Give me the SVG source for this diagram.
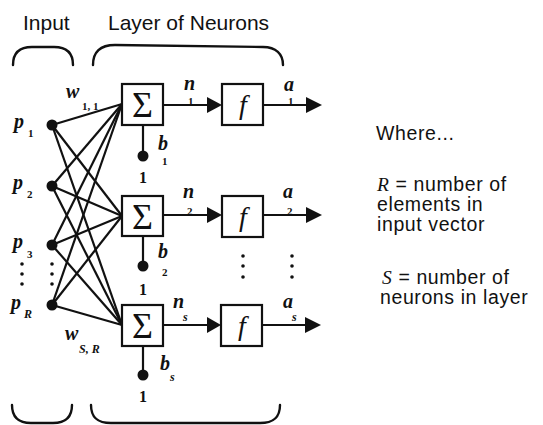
<svg xmlns="http://www.w3.org/2000/svg" width="543" height="425" viewBox="0 0 543 425">
<style>
.ln{stroke:#111;stroke-width:2.2;fill:none}
.box{stroke:#111;stroke-width:2.2;fill:#fff}
.dot{fill:#111}
.br{stroke:#111;stroke-width:2.4;fill:none;stroke-linecap:round}
.hd{font-family:"Liberation Sans",Arial,sans-serif;font-size:21px;fill:#111}
.tx{font-family:"Liberation Sans",Arial,sans-serif;font-size:19.5px;letter-spacing:0.6px;fill:#111}
.v{font-family:"Liberation Serif","Times New Roman",serif;font-style:italic;font-weight:bold;font-size:20px;fill:#111}
.sb{font-family:"Liberation Serif","Times New Roman",serif;font-weight:bold;font-size:11px;fill:#111}
.si{font-family:"Liberation Serif","Times New Roman",serif;font-style:italic;font-weight:bold;font-size:12px;fill:#111}
.one{font-family:"Liberation Serif","Times New Roman",serif;font-weight:bold;font-size:16px;fill:#111;text-anchor:middle}
.sig{font-family:"Liberation Serif","Times New Roman",serif;font-size:36px;fill:#111;text-anchor:middle}
.fn{font-family:"Liberation Serif","Times New Roman",serif;font-style:italic;font-size:28px;fill:#111;text-anchor:middle}
.ri{font-family:"Liberation Serif","Times New Roman",serif;font-style:italic}
</style>
<rect width="543" height="425" fill="#fff"/>
<g id="brackets">
<text class="hd" x="23" y="30">Input</text>
<text class="hd" x="108" y="30">Layer of Neurons</text>
<path class="br" d="M13,65 C13,52 20,47 32,47 L54,47 C66,47 73,52 73,65"/>
<path class="br" d="M93,65 C93,52 100,45 115,45 L263,47 C276,47 283,54 283,65"/>
<path class="br" d="M12,405 C12,418 19,423 31,423 L53,423 C65,423 72,418 72,405"/>
<path class="br" d="M91,405 C91,418 98,423 111,423 L260,423 C273,423 280,418 280,405"/>
</g>
<g id="connectors">
<line class="ln" x1="52" y1="125" x2="122" y2="104"/>
<line class="ln" x1="52" y1="125" x2="122" y2="216"/>
<line class="ln" x1="52" y1="125" x2="122" y2="325"/>
<line class="ln" x1="52" y1="186" x2="122" y2="104"/>
<line class="ln" x1="52" y1="186" x2="122" y2="216"/>
<line class="ln" x1="52" y1="186" x2="122" y2="325"/>
<line class="ln" x1="52" y1="245" x2="122" y2="104"/>
<line class="ln" x1="52" y1="245" x2="122" y2="216"/>
<line class="ln" x1="52" y1="245" x2="122" y2="325"/>
<line class="ln" x1="52" y1="305" x2="122" y2="104"/>
<line class="ln" x1="52" y1="305" x2="122" y2="216"/>
<line class="ln" x1="52" y1="305" x2="122" y2="325"/>
<line class="ln" x1="163" y1="105" x2="208" y2="105"/>
<polygon class="dot" points="207,97 222,105 207,113"/>
<line class="ln" x1="263" y1="105" x2="308" y2="105"/>
<polygon class="dot" points="306,97 322,105 306,113"/>
<line class="ln" x1="163" y1="215" x2="208" y2="215"/>
<polygon class="dot" points="207,207 222,215 207,223"/>
<line class="ln" x1="263" y1="215" x2="308" y2="215"/>
<polygon class="dot" points="306,207 322,215 306,223"/>
<line class="ln" x1="163" y1="325" x2="208" y2="325"/>
<polygon class="dot" points="207,317 221,325 207,333"/>
<line class="ln" x1="262" y1="325" x2="306" y2="325"/>
<polygon class="dot" points="305,317 321,325 305,333"/>
<line class="ln" x1="143" y1="125" x2="143" y2="156"/>
<line class="ln" x1="143" y1="236" x2="143" y2="266"/>
<line class="ln" x1="143" y1="346" x2="143" y2="375"/>
</g>
<g id="weights">
<text class="v" x="66" y="98">w</text><text class="sb" x="82" y="110">1, 1</text>
<text class="v" x="65" y="340">w</text><text class="si" x="79" y="353">S, R</text>
</g>
<g id="input-p1"><circle class="dot" cx="52" cy="125" r="5.5"/><text class="v" x="14" y="128">p</text><text class="sb" x="28" y="137">1</text></g>
<g id="input-p2"><circle class="dot" cx="52" cy="186" r="5.5"/><text class="v" x="13" y="189">p</text><text class="sb" x="27" y="198">2</text></g>
<g id="input-p3"><circle class="dot" cx="52" cy="245" r="5.5"/><text class="v" x="13" y="248">p</text><text class="sb" x="27" y="258">3</text></g>
<g id="input-pR"><circle class="dot" cx="52" cy="305" r="5.5"/><text class="v" x="11" y="309">p</text><text class="si" x="24" y="318">R</text></g>
<g id="ellipsis">
<circle class="dot" cx="22" cy="264" r="1.8"/><circle class="dot" cx="22" cy="274" r="1.8"/><circle class="dot" cx="22" cy="284" r="1.8"/>
<circle class="dot" cx="52" cy="264" r="1.8"/><circle class="dot" cx="52" cy="274" r="1.8"/><circle class="dot" cx="52" cy="284" r="1.8"/>
<circle class="dot" cx="243" cy="256" r="1.8"/><circle class="dot" cx="243" cy="266" r="1.8"/><circle class="dot" cx="243" cy="277" r="1.8"/>
<circle class="dot" cx="292" cy="256" r="1.8"/><circle class="dot" cx="292" cy="266" r="1.8"/><circle class="dot" cx="292" cy="277" r="1.8"/>
</g>
<g id="sum1"><rect class="box" x="122" y="84" width="41" height="41"/><text class="sig" x="142.5" y="117">Σ</text></g>
<g id="sum2"><rect class="box" x="122" y="196" width="41" height="40"/><text class="sig" x="142.5" y="229">Σ</text></g>
<g id="sum3"><rect class="box" x="122" y="305" width="41" height="41"/><text class="sig" x="142.5" y="338">Σ</text></g>
<g id="f1"><rect class="box" x="222" y="84" width="41" height="41"/><text class="fn" x="243" y="114">f</text></g>
<g id="f2"><rect class="box" x="222" y="196" width="41" height="41"/><text class="fn" x="243" y="226">f</text></g>
<g id="f3"><rect class="box" x="221" y="305" width="41" height="41"/><text class="fn" x="242" y="335">f</text></g>
<g id="bias1"><circle class="dot" cx="143" cy="156" r="5.5"/><text class="v" x="158" y="150">b</text><text class="sb" x="162" y="165">1</text><text class="one" x="143" y="183">1</text></g>
<g id="bias2"><circle class="dot" cx="143" cy="266" r="5.5"/><text class="v" x="158" y="258">b</text><text class="sb" x="162" y="276">2</text><text class="one" x="143" y="295">1</text></g>
<g id="bias3"><circle class="dot" cx="143" cy="375" r="5.5"/><text class="v" x="160" y="370">b</text><text class="si" x="170" y="381">s</text><text class="one" x="143" y="402">1</text></g>
<g id="outputs">
<text class="v" x="184" y="90">n</text><text class="sb" x="188" y="105">1</text>
<text class="v" x="284" y="91">a</text><text class="sb" x="288" y="105">1</text>
<text class="v" x="183" y="198">n</text><text class="sb" x="187" y="215">2</text>
<text class="v" x="283" y="198">a</text><text class="sb" x="287" y="215">2</text>
<text class="v" x="173" y="308">n</text><text class="si" x="183" y="321">s</text>
<text class="v" x="283" y="308">a</text><text class="si" x="292" y="321">s</text>
</g>
<g id="legend">
<text class="tx" x="376" y="140">Where...</text>
<text class="tx" x="377" y="191"><tspan class="ri">R</tspan> = number of</text>
<text class="tx" x="377" y="211">elements in</text>
<text class="tx" x="377" y="231">input vector</text>
<text class="tx" x="382" y="284"><tspan class="ri">S</tspan> = number of</text>
<text class="tx" x="380" y="304">neurons in layer</text>
</g>
</svg>
